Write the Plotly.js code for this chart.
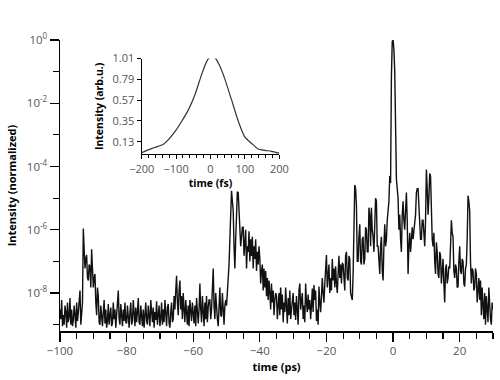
<!DOCTYPE html>
<html>
<head>
<meta charset="utf-8">
<script src="https://cdn.plot.ly/plotly-3.0.1.min.js"></script>
<style>
  body { margin: 0; background: #fff; }
  #chart { width: 500px; height: 380px; }
</style>
</head>
<body>
<div id="chart"></div>
<script>
// main trace: intensity (normalized) sampled every 0.25 ps from -100 ps
var startPs = -100;
var stepPs = 0.25;
var intensity = [
  3e-9, 1.5e-9, 6e-9, 9e-10, 2e-9, 1e-9, 4e-9, 2.5e-9, 8e-10, 5e-9, 1.2e-9, 1.8e-9, 7e-9, 1e-9, 3e-9, 9e-10, 1.4e-9, 4e-9, 2e-9, 8e-10,
  5e-9, 1.3e-9, 2.5e-9, 6e-9, 1.2e-8, 1e-9, 2e-9, 5e-9, 1.1e-6, 2e-7, 6e-8, 1.2e-7, 1.6e-7, 3e-8, 2.5e-8, 8e-8, 7e-8, 1.5e-8, 2.4e-7, 6e-8,
  1.5e-8, 3e-8, 4e-8, 5e-9, 2e-9, 1.5e-8, 8e-9, 1.2e-9, 1e-9, 4e-9, 1.6e-9, 9e-10, 2.5e-9, 6e-9, 1.1e-9, 3e-9, 8e-10, 1.3e-9, 4.5e-9, 1e-9,
  2e-9, 3.5e-9, 9e-10, 1.1e-9, 5e-9, 1.5e-9, 3e-9, 8e-10, 2e-9, 6e-9, 1.2e-8, 1.5e-9, 1e-9, 4.5e-9, 2e-9, 9e-10, 3e-9, 1.3e-9, 5e-9, 1.2e-9,
  1.1e-9, 4e-9, 1.8e-9, 8e-10, 2.5e-9, 5e-9, 1e-9, 1.3e-9, 6e-9, 2e-9, 9e-10, 3.5e-9, 1.2e-9, 2.5e-9, 7e-9, 1.2e-9, 1e-9, 4e-9, 1.6e-9, 9e-10,
  3e-9, 8e-10, 2e-9, 5e-9, 1.3e-9, 1e-9, 4e-9, 2.2e-9, 9e-10, 6e-9, 1.5e-9, 1.2e-9, 3.5e-9, 8e-10, 2.5e-9, 1.4e-9, 5.5e-9, 1e-9, 2e-9, 4e-9,
  9e-10, 1.6e-9, 5e-9, 1e-9, 3e-9, 1.2e-9, 6e-9, 2e-9, 9e-10, 3.5e-9, 4.5e-9, 1.1e-9, 8e-10, 2.5e-9, 5e-9, 1.2e-9, 1.5e-9, 8e-9, 3e-9, 1.2e-8,
  3.5e-8, 5e-9, 2e-9, 1.2e-8, 2.5e-8, 3e-9, 8e-9, 1.5e-9, 1e-8, 3e-9, 1.2e-9, 6e-9, 2e-9, 1e-9, 4e-9, 9e-10, 6e-9, 1.8e-9, 1.3e-9, 5e-9,
  2.5e-9, 1.1e-9, 4e-9, 9e-10, 7e-9, 1.8e-9, 1.1e-9, 3e-9, 2e-8, 3e-9, 1.2e-9, 8e-9, 2e-9, 9e-10, 5e-9, 1.5e-9, 8e-9, 1.2e-9, 3.5e-9, 6e-9,
  6e-9, 1.5e-9, 3e-9, 1.5e-8, 6e-8, 4e-9, 1.5e-9, 1e-8, 3e-9, 1.5e-9, 9e-10, 5e-9, 1.5e-8, 2e-9, 1.8e-9, 1e-8, 2.5e-9, 1e-9, 4e-9, 6e-9,
  4e-9, 1e-8, 2e-8, 8e-8, 5e-7, 3e-6, 1.7e-5, 8e-6, 4e-6, 3e-7, 6e-8, 5e-7, 8e-6, 1.6e-5, 1.5e-5, 4e-6, 2e-6, 3e-7, 6e-7, 1.2e-6,
  1.2e-6, 1.5e-7, 4e-7, 1e-6, 6e-8, 3e-7, 2e-7, 9e-7, 1e-7, 5e-7, 1.5e-7, 6e-7, 6e-8, 3e-7, 1.2e-7, 5e-7, 5e-8, 2e-7, 8e-8, 3e-7,
  1.2e-7, 2e-8, 5e-8, 8e-8, 1.2e-8, 6e-8, 1.5e-8, 5e-8, 8e-9, 3e-8, 6e-9, 2.5e-8, 1e-8, 3e-9, 2e-8, 5e-9, 1.2e-8, 2e-9, 6e-9, 1e-8,
  8e-9, 1.5e-9, 4e-9, 1e-8, 2e-9, 1.5e-8, 3e-9, 9e-9, 1.2e-9, 5e-9, 2.5e-9, 1.5e-8, 4e-9, 1.1e-9, 7e-9, 2e-9, 1.2e-8, 1.5e-9, 3e-9, 6e-9,
  1e-8, 2e-9, 5e-9, 1.4e-9, 8e-9, 3e-9, 1e-9, 1.2e-8, 2e-8, 3e-9, 6e-9, 1e-8, 1.5e-9, 4e-9, 1.2e-9, 2e-8, 5e-9, 2.5e-9, 9e-9, 3e-9,
  6e-9, 1.5e-9, 4e-9, 1.4e-8, 2.5e-9, 1.8e-8, 6e-9, 1.2e-8, 1.3e-9, 3e-9, 1e-9, 1.6e-8, 5e-9, 2.5e-9, 8e-9, 3e-8, 1e-8, 5e-9, 2e-8, 5e-8,
  1.6e-7, 1.5e-8, 4e-8, 8e-8, 1e-8, 3e-8, 1.2e-8, 1.2e-7, 2.5e-8, 6e-8, 1.5e-8, 7e-8, 2e-8, 1e-8, 4e-8, 1.5e-7, 3e-8, 8e-8, 2e-8, 9e-8,
  8e-8, 1.5e-8, 1.2e-8, 1.5e-7, 2e-7, 3e-8, 2.5e-8, 1.5e-7, 1.2e-7, 1e-8, 7e-9, 6e-9, 4e-8, 1e-6, 2.6e-5, 2e-5, 6e-6, 1e-7, 1e-7, 6e-7,
  1.5e-6, 1e-7, 8e-8, 5e-7, 6e-7, 8e-8, 1.2e-7, 1.2e-6, 1e-6, 2e-7, 2e-7, 5e-6, 3e-6, 3e-7, 5e-6, 1e-6, 6e-7, 2e-7, 2e-6, 1e-5,
  8e-6, 3e-7, 3e-7, 1e-7, 4e-8, 3e-7, 6e-7, 5e-8, 2.5e-8, 3e-7, 1.5e-6, 3e-7, 5e-7, 2e-6, 5e-6, 8e-6, 5e-5, 3e-5, 0.07, 0.9,
  1, 0.5, 0.1, 1e-4, 4e-5, 2e-5, 1e-5, 1e-6, 3e-6, 5e-7, 2e-7, 3e-6, 8e-6, 2e-6, 1e-6, 4e-6, 1.5e-5, 2e-6, 4e-8, 3e-7,
  8e-7, 2e-7, 1e-6, 1.2e-6, 5e-7, 1e-6, 1.2e-6, 3e-6, 1.5e-5, 2e-5, 2e-5, 4e-6, 3e-6, 5e-7, 5e-7, 2e-6, 2e-6, 4e-7, 3e-7, 2e-6,
  8e-5, 2e-5, 3e-6, 1e-5, 6e-5, 5e-5, 1.2e-6, 5e-7, 3e-7, 8e-7, 1e-7, 4e-8, 4e-7, 2e-7, 4e-8, 3e-8, 2e-7, 1.5e-7, 2e-8, 5e-8,
  1.2e-7, 2e-8, 5e-9, 6e-8, 8e-8, 2e-8, 3e-8, 7e-8, 6e-8, 3e-7, 2e-6, 8e-7, 6e-7, 5e-8, 3e-8, 8e-8, 6e-8, 1.5e-8, 1.6e-8, 1e-7,
  3e-7, 5e-8, 4e-8, 1.2e-7, 1e-7, 2e-8, 1.6e-8, 6e-8, 8e-8, 5e-7, 1.2e-5, 8e-6, 4e-6, 1e-7, 2e-8, 6e-8, 5e-8, 1.2e-8, 1.5e-8, 6e-8,
  4e-8, 5e-9, 1.5e-8, 3e-8, 6e-9, 2.5e-8, 2e-9, 1.5e-8, 4e-9, 1.5e-9, 1e-8, 1e-9, 8e-9, 3e-9, 1.2e-9, 1.5e-8, 4e-9, 1.5e-9, 1e-9, 5e-9,
  3e-9
];
var timePs = intensity.map(function (v, i) { return startPs + i * stepPs; });

// inset: single pulse, time in fs
var timeFs = [-200, -181, -162, -137, -123, -103, -84, -64, -45, -26, -11, -3, 5, 13,
              27, 42, 61, 81, 100, 119, 138, 158, 177, 200];
var intensityArb = [0.015, 0.045, 0.07, 0.105, 0.15, 0.24, 0.345, 0.47, 0.63, 0.84, 0.98, 1.02, 1.04, 1.02,
                    0.93, 0.79, 0.575, 0.345, 0.18, 0.115, 0.055, 0.04, 0.03, 0.01];

var yTickVals = [1, 1e-2, 1e-4, 1e-6, 1e-8];
var yTickText = ['10<sup>0</sup>', '10<sup>-2</sup>', '10<sup>-4</sup>', '10<sup>-6</sup>', '10<sup>-8</sup>'];
var yMinorVals = [1e-1, 1e-3, 1e-5, 1e-7, 1e-9];
var insetTickVals = [0.13, 0.35, 0.57, 0.79, 1.01];

var main = {
  x: timePs,
  y: intensity,
  type: 'scatter',
  mode: 'lines',
  line: {color: '#111', width: 1.4},
  xaxis: 'x',
  yaxis: 'y'
};
var inset = {
  x: timeFs,
  y: intensityArb,
  type: 'scatter',
  mode: 'lines',
  line: {color: '#333', width: 1.2, shape: 'spline', smoothing: 0.6},
  xaxis: 'x2',
  yaxis: 'y2'
};

var tickFont = {family: 'Open Sans', size: 11.5, color: '#555'};
var titleFont = {family: 'Open Sans', size: 11, color: '#000', weight: 'bold'};

var layout = {
  width: 500,
  height: 380,
  margin: {l: 60, r: 7, t: 40, b: 49},
  showlegend: false,
  paper_bgcolor: '#fff',
  plot_bgcolor: 'rgba(0,0,0,0)',
  font: {family: 'Open Sans'},
  xaxis: {
    range: [-100, 30],
    tick0: 0, dtick: 20,
    ticks: 'outside', ticklen: 9, tickwidth: 1.2, tickcolor: '#000',
    minor: {dtick: 5, ticks: 'outside', ticklen: 6, tickwidth: 1.2, tickcolor: '#000'},
    showline: true, linecolor: '#000', linewidth: 1.5,
    showgrid: false, zeroline: false,
    tickfont: tickFont,
    title: {text: 'time (ps)', font: titleFont, standoff: 6}
  },
  yaxis: {
    type: 'log',
    range: [-9.2, 0],
    tickmode: 'array', tickvals: yTickVals, ticktext: yTickText,
    ticks: 'outside', ticklen: 9, tickwidth: 1.2, tickcolor: '#000',
    minor: {tickmode: 'array', tickvals: yMinorVals, ticks: 'outside', ticklen: 6, tickwidth: 1.2, tickcolor: '#000'},
    showline: true, linecolor: '#000', linewidth: 1.5,
    showgrid: false, zeroline: false,
    tickfont: tickFont,
    title: {text: 'Intensity (normalized)', font: titleFont, standoff: 8}
  },
  xaxis2: {
    domain: [0.1887, 0.5065],
    anchor: 'y2',
    range: [-200, 200],
    tick0: 0, dtick: 100,
    ticks: 'outside', ticklen: 4, tickwidth: 1, tickcolor: '#000',
    minor: {dtick: 20, ticks: 'outside', ticklen: 3, tickwidth: 1, tickcolor: '#000'},
    showline: true, linecolor: '#000', linewidth: 1.2,
    showgrid: false, zeroline: false,
    tickfont: {family: 'Open Sans', size: 11, color: '#555'},
    title: {text: 'time (fs)', font: {family: 'Open Sans', size: 10.5, color: '#000', weight: 'bold'}, standoff: 2}
  },
  yaxis2: {
    domain: [0.6078, 0.9364],
    anchor: 'x2',
    range: [0, 1.01],
    tickmode: 'array', tickvals: insetTickVals,
    ticks: 'outside', ticklen: 4, tickwidth: 1, tickcolor: '#000',
    showline: true, linecolor: '#000', linewidth: 1.2,
    showgrid: false, zeroline: false,
    tickfont: {family: 'Open Sans', size: 11, color: '#555'},
    title: {text: 'Intensity (arb.u.)', font: {family: 'Open Sans', size: 10.5, color: '#000', weight: 'bold'}, standoff: 6}
  }
};

Plotly.newPlot('chart', [main, inset], layout, {staticPlot: true, displayModeBar: false});
</script>
</body>
</html>
